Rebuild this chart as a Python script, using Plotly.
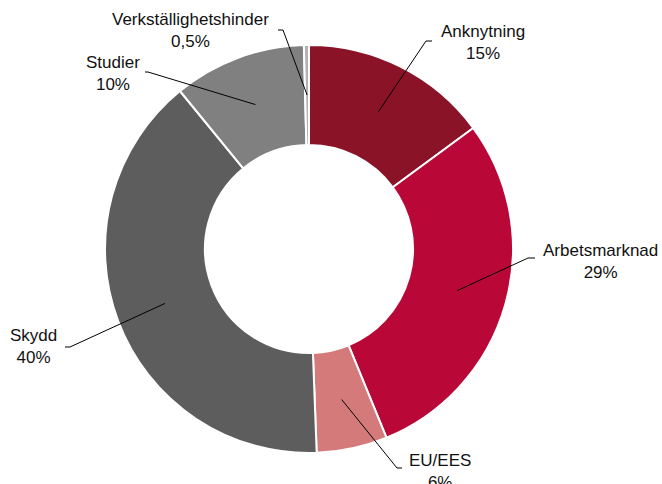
import math
import plotly.graph_objects as go

# ---- data ----
categories = ["Anknytning", "Arbetsmarknad", "EU/EES", "Skydd", "Studier", "Verkställighetshinder"]
values = [14.9, 28.9, 5.6, 39.7, 10.5, 0.4]
pct_labels = ["15%", "29%", "6%", "40%", "10%", "0,5%"]

# ---- style / layout ----
colors = ["#8B1328", "#B90838", "#D47A7A", "#5D5D5D", "#808080", "#B2B2B2"]
W, H = 662, 484
cx, cy, R = 309, 249, 204    # screen px
hole = 0.51
r_mid = R * (1 + hole) / 2
# label text centre (px) and elbow point (px) + horizontal stub end, screen px
label_pos = [
    dict(tx=483, ty=42, ex=426, ey=41, sx=432),
    dict(tx=600, ty=261, ex=528, ey=258, sx=535),
    dict(tx=440, ty=471, ex=397, ey=468, sx=402),
    dict(tx=33, ty=346, ex=70, ey=347, sx=65),
    dict(tx=113, ty=73, ex=148, ey=72, sx=145),
    dict(tx=190, ty=30, ex=283, ey=30, sx=278),
]

def px(x):
    return x / W

def py(y):
    return 1 - y / H

fig = go.Figure()
fig.add_trace(go.Pie(
    labels=categories,
    values=values,
    sort=False,
    direction="clockwise",
    rotation=0,
    hole=hole,
    marker=dict(colors=colors, line=dict(color="white", width=2)),
    textinfo="none",
    showlegend=False,
    domain=dict(x=[px(cx - R), px(cx + R)], y=[py(cy + R), py(cy - R)]),
))

total = sum(values)
cum = 0.0
shapes = []
annotations = []
for cat, v, pct, lp in zip(categories, values, pct_labels, label_pos):
    mid = (cum + v / 2) / total * 2 * math.pi
    cum += v
    ix = cx + r_mid * math.sin(mid)
    iy = cy - r_mid * math.cos(mid)
    path = "M {} {} L {} {} L {} {}".format(
        px(ix), py(iy), px(lp["ex"]), py(lp["ey"]), px(lp["sx"]), py(lp["ey"]))
    shapes.append(dict(type="path", path=path, xref="paper", yref="paper",
                       line=dict(color="black", width=1), layer="above"))
    annotations.append(dict(x=px(lp["tx"]), y=py(lp["ty"]), xref="paper", yref="paper",
                            text=cat + "<br>" + pct, showarrow=False,
                            xanchor="center", yanchor="middle", align="center",
                            font=dict(family="Liberation Sans, Arial, sans-serif",
                                      size=17, color="#111111")))

fig.update_layout(
    width=W, height=H,
    margin=dict(l=0, r=0, t=0, b=0),
    paper_bgcolor="white",
    plot_bgcolor="white",
    shapes=shapes,
    annotations=annotations,
)
fig.write_html(
    "out.html",
    config={"displayModeBar": False},
    post_script="document.body.style.margin='0';document.body.style.overflow='hidden';",
)
